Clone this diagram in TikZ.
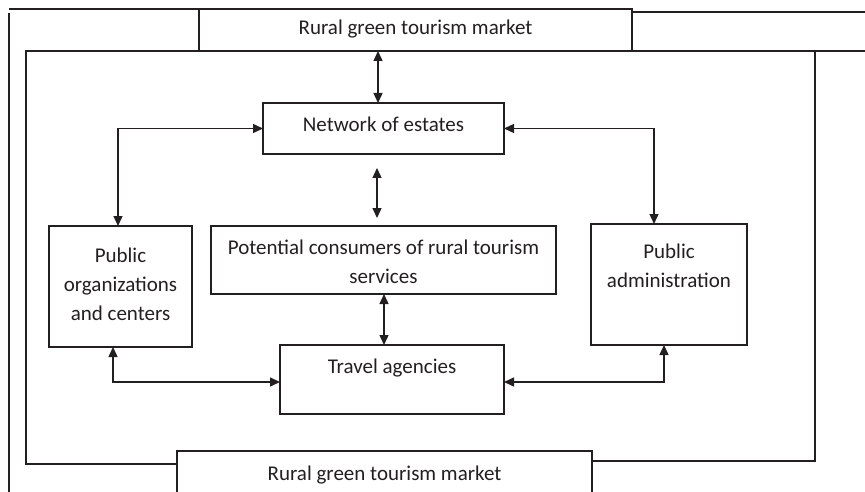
\documentclass[tikz,border=0pt]{standalone}
\usepackage{fontspec}
\setmainfont{Carlito}
\usetikzlibrary{arrows.meta}
\definecolor{ink}{HTML}{231F20}
\begin{document}
\begin{tikzpicture}[x=1pt,y=-1pt,
  frame/.style={line width=2.8pt,color=ink},
  boxnode/.style={draw=ink,line width=1.6pt,inner sep=0pt,outer sep=0pt,rectangle},
  txt/.style={inner sep=0pt,text=ink,align=center,font=\fontsize{21}{29}\selectfont},
  arr/.style={line width=1.4pt,color=ink,{Triangle[length=10pt,width=9pt]}-{Triangle[length=10pt,width=9pt]}}]
\useasboundingbox (0,0) rectangle (865,492);
\clip (0,0) rectangle (865,492);
% outer frame
\draw[frame] (9,9) -- (199,9);
\draw[frame] (9,13) -- (9,495);
\draw[frame] (632,12) -- (868,12);
\draw[frame] (632,51) -- (868,51);
\draw[frame] (815,51) -- (815,461) -- (592,461);
\draw[frame] (199,51) -- (26,51) -- (26,464) -- (177,464);
% boxes
\node[boxnode,minimum width=433pt,minimum height=42pt] (top) at (415.5,30) {};
\node[boxnode,minimum width=241pt,minimum height=51pt] (net) at (383.5,128.5) {};
\node[boxnode,minimum width=345pt,minimum height=68pt] (pot) at (383.5,260) {};
\node[boxnode,minimum width=143pt,minimum height=121pt] (porg) at (120.5,286.5) {};
\node[boxnode,minimum width=156pt,minimum height=121pt] (adm) at (669,284.5) {};
\node[boxnode,minimum width=224pt,minimum height=69pt] (trav) at (392,379.5) {};
\node[boxnode,minimum width=415pt,minimum height=60pt] (bot) at (384.5,481) {};
% texts
\node[txt] (ttop) at (415.5,29.2) {\strut Rural green tourism market};
\node[txt] (tnet) at (383.5,125.9) {\strut Network of estates};
\node[txt] (tpot) at (383.5,262.7) {\strut Potential consumers of rural tourism\\\strut services};
\node[txt] (tporg) at (120.5,285.2) {\strut Public\\\strut organizations\\\strut and centers};
\node[txt] (tadm) at (669,266.7) {\strut Public\\\strut administration};
\node[txt] (ttrav) at (392,367.2) {\strut Travel agencies};
\node[txt] (tbot) at (384.5,474.2) {\strut Rural green tourism market};
% helper coordinates
\coordinate (xa) at (378,0);
\coordinate (xb) at (377,0);
\coordinate (xc) at (384,0);
\coordinate (xl) at (118,0);
\coordinate (xr) at (654,0);
\coordinate (xbl) at (113,0);
\coordinate (xbr) at (664,0);
\coordinate (yb) at (0,382);
% connectors
\draw[arr] (top.south -| xa) -- (net.north -| xa);
\draw[arr,shorten <=14pt,shorten >=8pt] (net.south -| xb) -- (pot.north -| xb);
\draw[arr] (pot.south -| xc) -- (trav.north -| xc);
\draw[arr] (porg.north -| xl) |- (net.west);
\draw[arr] (net.east) -| (adm.north -| xr);
\draw[arr] (porg.south -| xbl) |- (trav.west |- yb);
\draw[arr] (trav.east |- yb) -| (adm.south -| xbr);
\end{tikzpicture}
\end{document}
